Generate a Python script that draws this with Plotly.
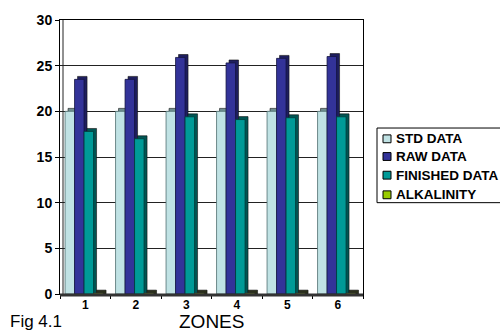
import plotly.graph_objects as go

zones = ["1", "2", "3", "4", "5", "6"]
std_data = [20, 20, 20, 20, 20, 20]
raw_data = [23.5, 23.5, 25.9, 25.3, 25.8, 26.0]
finished_data = [17.8, 17.0, 19.4, 19.1, 19.3, 19.4]
alkalinity = [0.1, 0.1, 0.1, 0.1, 0.1, 0.1]
y_ticks = [0, 5, 10, 15, 20, 25, 30]
series_names = ["STD DATA", "RAW DATA", "FINISHED DATA", "ALKALINITY"]
series_values = [std_data, raw_data, finished_data, alkalinity]
colors = ["#C0E2E4", "#333399", "#009A97", "#99CC00"]
side_colors = ["#6F8E90", "#1E1E5E", "#005553", "#2A2F1A"]
edges = ["#4F6F70", "#141440", "#003B3A", "#333333"]

W, H = 500, 334
L, R, T, B = 60, 137, 15, 40
pw, ph = W - L - R, H - T - B
cat_px = pw / len(zones)

bar_w = 9.5 / cat_px
offsets = [-0.40, -0.40 + bar_w, -0.40 + 2 * bar_w, -0.40 + 3 * bar_w]
dx = 3.0 / cat_px
dy = 3.0 * 30 / ph


def px(x):
    return (x - L) / pw


def py(y):
    return (H - B - y) / ph


fig = go.Figure()
# depth (3D side/top) layer
for name, vals, side, off in zip(series_names, series_values, side_colors, offsets):
    fig.add_trace(go.Bar(
        x=zones, y=[v + dy for v in vals], name=name + " depth", showlegend=False,
        offset=off + dx, width=bar_w, hoverinfo="skip",
        marker=dict(color=side, line=dict(color="#111111", width=0.6)),
    ))
# front faces
for name, vals, col, edge, off in zip(series_names, series_values, colors, edges, offsets):
    fig.add_trace(go.Bar(
        x=zones, y=vals, name=name, showlegend=False,
        offset=off, width=bar_w,
        marker=dict(color=col, line=dict(color=edge, width=0.8)),
    ))

shapes = []
annotations = []
# legend box
shapes.append(dict(type="rect", xref="paper", yref="paper",
                   x0=px(377), x1=px(520), y0=py(201), y1=py(125),
                   line=dict(color="black", width=1), fillcolor="white"))
ys = [136, 154, 173, 193]
for name, col, yc in zip(series_names, colors, ys):
    shapes.append(dict(type="rect", xref="paper", yref="paper",
                       x0=px(383), x1=px(391), y0=py(yc + 4), y1=py(yc - 4),
                       line=dict(color="black", width=1), fillcolor=col))
    annotations.append(dict(text="<b>%s</b>" % name, x=px(394), y=py(yc),
                            xref="paper", yref="paper", xanchor="left", yanchor="middle",
                            showarrow=False, font=dict(size=13.5, color="black")))
# floor and side wall of the 3D box
shapes.append(dict(type="line", xref="paper", yref="paper", x0=0, x1=1, y0=py(295), y1=py(295),
                   line=dict(color="#333333", width=3)))
shapes.append(dict(type="line", xref="paper", yref="paper", x0=px(63), x1=px(63), y0=0, y1=1,
                   line=dict(color="#222222", width=1)))

annotations.append(dict(text="Fig 4.1", x=px(36), y=py(322), xref="paper", yref="paper",
                        showarrow=False, xanchor="center", yanchor="middle",
                        font=dict(size=17, color="black")))
annotations.append(dict(text="ZONES", x=px(211), y=py(322), xref="paper", yref="paper",
                        showarrow=False, xanchor="center", yanchor="middle",
                        font=dict(size=19, color="black")))

fig.update_layout(
    width=W, height=H,
    margin=dict(l=L, r=R, t=T, b=B),
    paper_bgcolor="white", plot_bgcolor="white",
    barmode="overlay",
    font=dict(family="Arial, Liberation Sans, sans-serif", color="black"),
    showlegend=False,
    shapes=shapes,
    annotations=annotations,
    xaxis=dict(
        showline=True, linecolor="black", linewidth=1, mirror=True,
        ticks="outside", ticklen=4, tickcolor="black", tickson="boundaries",
        tickfont=dict(size=12, weight="bold"),
    ),
    yaxis=dict(
        range=[0, 30], tickvals=y_ticks,
        showline=True, linecolor="black", linewidth=1, mirror=True,
        showgrid=True, gridcolor="#222222", gridwidth=1,
        ticks="outside", ticklen=4, tickcolor="black",
        tickfont=dict(size=14, weight="bold"),
        zeroline=False,
    ),
)

fig.write_html("out.html", config={"displayModeBar": False},
               post_script="document.body.style.margin='0';document.body.style.overflow='hidden';")
